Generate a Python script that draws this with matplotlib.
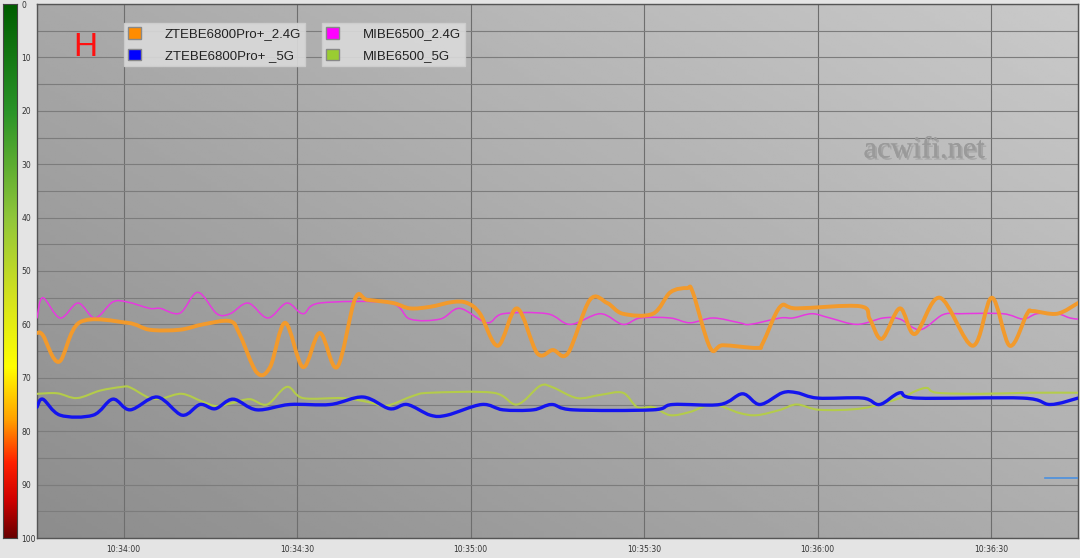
import numpy as np
import matplotlib
matplotlib.use("Agg")
import matplotlib.pyplot as plt
from matplotlib.colors import LinearSegmentedColormap
from matplotlib.patches import Patch, PathPatch
from matplotlib.path import Path
import matplotlib.patheffects as pe

# seconds from 10:33:45, signal values (0 = best, 100 = worst)
zte24_t = [0, 1.0, 3.8, 7.4, 15.6, 19.5, 24.7, 28.7, 33.4, 35.1, 38.0, 40.3, 42.9, 46.0, 48.9,
           51.9, 55.0, 57.1, 61.6, 64.5, 68.0, 71.9, 74.4, 76.6, 79.7, 83.0, 86.5, 89.2, 91.8,
           95.6, 98.6, 101.3, 106.5, 109.5, 112.4, 113.4, 116.4, 118.6, 124.5, 125.5, 128.5,
           131.4, 142.3, 144.0, 146.1, 149.2, 151.8, 156.1, 161.8, 165.1, 168.2, 171.2, 172.2,
           176.4, 180]
zte24_v = [61.6, 62, 67, 59.6, 59.7, 61, 61, 60, 59.4, 62, 69, 68, 59.7, 68, 61.6,
           68, 55.2, 55.4, 56, 57, 56.7, 55.8, 56, 58, 64, 57, 65.4, 64.8, 65.4,
           55.4, 56, 58, 58, 54, 53.2, 54, 64.4, 63.9, 64.4, 63.5, 56.7,
           57, 56.6, 59, 62.7, 57, 61.8, 55, 64, 55, 64, 58, 57.5,
           58, 56]

zte5_t = [0, 1.0, 4.0, 9.7, 13.1, 16.1, 20.8, 25.1, 28.2, 30.8, 33.9, 38.0, 43.7, 50.7, 56.4,
          61.0, 64.0, 68.0, 70.9, 76.9, 80.6, 85.8, 89.0, 92.7, 106.5, 109.9, 118.1, 122.0,
          125.0, 128.9, 131.4, 135.0, 142.8, 145.7, 149.2, 152.1, 170.5, 175.2, 180]
zte5_v = [75.5, 74, 77, 77, 74, 76, 73.6, 77, 75, 75.8, 74, 76, 75, 75, 73.6,
          75.8, 75, 77, 77, 75, 76, 76, 75, 76, 76, 75, 75, 73,
          75, 72.8, 72.8, 73.8, 73.8, 75, 72.8, 73.8, 73.8, 75, 73.8]

mi24_t = [0, 1.0, 4.0, 7.1, 10.0, 13.1, 15.6, 19.5, 21.3, 24.7, 27.8, 31.1, 33.4, 36.5, 39.9,
          43.2, 46.0, 48.9, 61.0, 64.5, 69.7, 73.1, 77.8, 80.6, 88.2, 92.2, 97.4, 101.3,
          104.3, 109.5, 112.9, 116.9, 121.5, 123.3, 128.5, 130.7, 134.0, 137.1, 141.8,
          146.3, 149.2, 152.7, 156.6, 159.6, 167.0, 170.5, 172.9, 176.4, 178.6, 180]
mi24_v = [58.8, 55, 58.8, 56, 58.8, 55.8, 55.8, 57, 57, 57.9, 54, 58, 58, 56, 58.8,
          56, 58, 56, 56, 59, 59, 57, 59.7, 58, 58, 60, 58, 60,
          58.8, 58.8, 59.7, 58.8, 59.7, 60, 58.8, 58.8, 58, 58.8, 60,
          58.8, 59, 61, 58.2, 58, 58, 59, 58, 58, 58.8, 59]

mi5_t = [0, 3.5, 6.9, 10.9, 14.7, 16.1, 19.5, 21.8, 25.1, 28.7, 31.1, 33.9, 36.8, 39.8, 43.2,
         46.0, 52.9, 57.1, 60.5, 65.0, 68.0, 78.9, 83.0, 87.0, 89.2, 93.4, 97.4, 101.3,
         103.8, 106.5, 109.5, 112.9, 116.9, 121.5, 124.5, 128.5, 131.4, 135.4, 142.8,
         149.2, 152.1, 153.9, 155.6, 163.0, 171.7, 180]
mi5_v = [73, 72.9, 73.8, 72.4, 71.7, 71.8, 73.8, 73.8, 73, 74.5, 75.3, 74.7, 74, 75, 71.7,
         73.8, 73.8, 74.5, 75.2, 73.4, 72.8, 72.8, 75, 71.5, 71.8, 73.8, 73.2, 72.8,
         75.5, 75.5, 77, 76.4, 75, 76.6, 77, 76, 75, 76, 75.7,
         73.8, 72.4, 71.9, 72.8, 73, 72.8, 72.8]

extra_t = [174.3, 180]
extra_v = [88.8, 88.8]

tick_secs = [15, 45, 75, 105, 135, 165]
tick_labels = ["10:34:00", "10:34:30", "10:35:00", "10:35:30", "10:36:00", "10:36:30"]
cb_ticks = list(range(0, 101, 10))


def spline(ax, t, v, **kw):
    # smooth line through the points (Catmull-Rom drawn as Bezier segments)
    p = np.column_stack([t, v]).astype(float)
    q = np.vstack([p[0], p, p[-1]])
    verts, codes = [p[0]], [Path.MOVETO]
    for i in range(1, len(q) - 2):
        c1 = q[i] + (q[i + 1] - q[i - 1]) / 6
        c2 = q[i + 1] - (q[i + 2] - q[i]) / 6
        verts += [c1, c2, q[i + 1]]
        codes += [Path.CURVE4] * 3
    ax.add_patch(PathPatch(Path(verts, codes), fill=False, capstyle="round",
                           joinstyle="round", **kw))


W, H = 1080, 558
fig = plt.figure(figsize=(W / 100, H / 100), dpi=100, facecolor="#e4e4e4")

ax = fig.add_axes([37 / W, 20 / H, 1041 / W, 534 / H])
cax = fig.add_axes([3 / W, 20 / H, 14 / W, 534 / H])

# colour scale on the left
cmap = LinearSegmentedColormap.from_list("sig", [
    (0.0, "#005e00"), (0.2, "#2a9428"), (0.4, "#90c63a"), (0.55, "#d4e21e"),
    (0.68, "#ffff00"), (0.78, "#ffa000"), (0.86, "#ff2000"), (0.93, "#d00000"),
    (1.0, "#6a0000")])
cax.imshow(np.linspace(0, 1, 256).reshape(-1, 1), cmap=cmap, aspect="auto",
           extent=[0, 1, 100, 0])
cax.set_ylim(100, 0)
cax.set_xticks([])
cax.set_yticks(cb_ticks)
cax.yaxis.tick_right()
cax.tick_params(axis="y", length=0, labelsize=5.5, pad=3, labelcolor="#333333")
for s in cax.spines.values():
    s.set_color("#444444")
    s.set_linewidth(0.8)

# grey gradient background
gx, gy = np.meshgrid(np.linspace(0, 1, 200), np.linspace(1, 0, 200))
bg = 0.55 + 0.13 * gx + 0.11 * gy
ax.imshow(bg, cmap="gray", vmin=0, vmax=1, aspect="auto", extent=[0, 1, 0, 1],
          transform=ax.transAxes, zorder=0)

ax.set_xlim(0, 180)
ax.set_ylim(100, 0)
ax.set_yticks(range(0, 101, 5))
ax.tick_params(axis="y", left=False, labelleft=False)
ax.set_xticks(tick_secs)
ax.set_xticklabels(tick_labels)
ax.tick_params(axis="x", length=0, labelsize=5.5, pad=5, labelcolor="#333333")
ax.grid(True, axis="y", color="#7c7c7c", linewidth=0.8, zorder=1)
ax.grid(True, axis="x", color="#6e6e6e", linewidth=0.8, zorder=1)
for s in ax.spines.values():
    s.set_color("#555555")
    s.set_linewidth(1)

spline(ax, mi5_t, mi5_v, edgecolor="#b4cc4a", lw=1.5, zorder=3)
spline(ax, mi24_t, mi24_v, edgecolor="#e838e0", lw=1.1, zorder=3)
spline(ax, zte5_t, zte5_v, edgecolor="#1414ee", lw=2.4, zorder=4)
spline(ax, zte24_t, zte24_v, edgecolor="#f29a2c", lw=2.8, zorder=5)
ax.plot(extra_t, extra_v, color="#4a90e0", lw=1.2, zorder=5)


# legends as two separate boxes
def box(handles, x0):
    leg = ax.legend(handles=handles, loc="upper left", bbox_to_anchor=(x0 / W, 1 - 23 / H),
                    bbox_transform=fig.transFigure, borderaxespad=0, frameon=True,
                    fancybox=False, handlelength=1.0, handleheight=1.0,
                    handletextpad=1.8, borderpad=0.3, labelspacing=0.62,
                    prop={"family": "Liberation Sans", "size": 9.5})
    leg.get_frame().set_facecolor("#dadada")
    leg.get_frame().set_edgecolor("#cfcfcf")
    leg.get_frame().set_alpha(0.9)
    for t in leg.get_texts():
        t.set_color("#222222")
    return leg


leg1 = box([Patch(facecolor="#ff8c00", edgecolor="#888888", label="ZTEBE6800Pro+_2.4G"),
            Patch(facecolor="#0000ff", edgecolor="#888888", label="ZTEBE6800Pro+ _5G")], 124)
ax.add_artist(leg1)
box([Patch(facecolor="#ff00ff", edgecolor="#888888", label="MIBE6500_2.4G"),
     Patch(facecolor="#9acd32", edgecolor="#888888", label="MIBE6500_5G")], 322)

fig.text(85 / W, 1 - 47 / H, "H", color="#ff1010", fontsize=24, family="Liberation Sans",
         ha="center", va="center")
fig.text(924 / W, 1 - 150 / H, "acwifi.net", color="#9a9a9a", fontsize=22,
         family="Liberation Serif", ha="center", va="center",
         path_effects=[pe.withSimplePatchShadow(offset=(1.5, -1.5), shadow_rgbFace="#7a7a7a", alpha=0.35),
                       pe.Normal()])

fig.savefig("out.png", dpi=100, facecolor=fig.get_facecolor())
